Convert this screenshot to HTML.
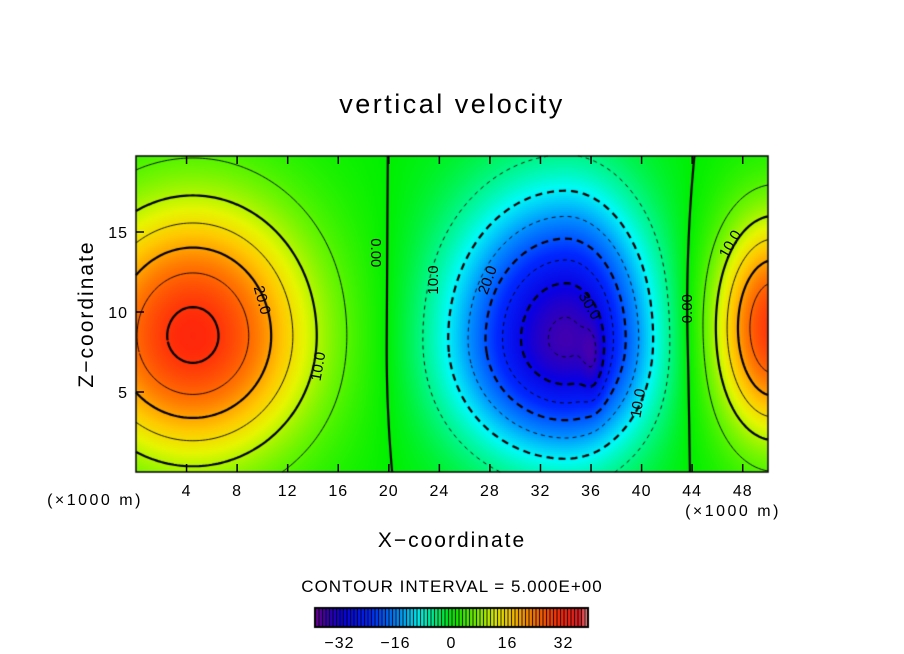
<!DOCTYPE html>
<html><head><meta charset="utf-8"><style>
html,body{margin:0;padding:0;background:#fff;width:904px;height:654px;overflow:hidden;position:relative;font-family:"Liberation Sans",sans-serif}
canvas,svg{position:absolute;left:0;top:0}
</style></head><body>
<canvas id="cv" width="904" height="654"></canvas>
<svg id="sv" width="904" height="654">
<text x="452" y="113" font-size="27" text-anchor="middle" letter-spacing="2.5">vertical velocity</text>
<text x="452" y="547" font-size="21" text-anchor="middle" letter-spacing="2">X−coordinate</text>
<text transform="translate(93,314) rotate(-90)" font-size="21" text-anchor="middle" letter-spacing="2">Z−coordinate</text>
<text x="95" y="505" font-size="16" text-anchor="middle" letter-spacing="2.5">(×1000 m)</text>
<text x="733" y="516" font-size="16" text-anchor="middle" letter-spacing="2.5">(×1000 m)</text>
<text x="452" y="592" font-size="17" text-anchor="middle" letter-spacing="1">CONTOUR INTERVAL = 5.000E+00</text>
<g id="axes"></g>
</svg>
<script>
// field features: center, amplitude, radii (left/right/bottom/top)
const featX=[4.5,34,36.2,50.5];
const featZ=[8.5,8.3,6.8,9];
const featAmp=[31.5,-36,-5,30];
const featRxL=[9.2,8.3,0.9,4.6];
const featRxR=[9.2,6.2,0.9,4.6];
const featRzB=[7.6,6.6,2.6,6.7];
const featRzT=[8.2,8.2,2.6,6.7];
const xTicks=[4,8,12,16,20,24,28,32,36,40,44,48];
const zTicks=[5,10,15];
const cbTicks=[-32,-16,0,16,32];
const levels=[-35,-30,-25,-20,-15,-10,-5,0,5,10,15,20,25,30];
// contour labels: x, z (data units), text, rotation
const labX=[9.99,14.4,19.0,23.5,27.8,35.9,39.7,43.6,47.0];
const labZ=[10.75,6.6,13.7,12.0,12.0,10.4,4.3,10.2,14.25];
const labT=["20.0","10.0","0.00","10.0","20.0","30.0","10.0","0.00","10.0"];
const labR=[75,-80,90,-90,-70,60,-80,-90,-60];

const X0=136,X1=768,Y0=156,Y1=472,XMAX=50,ZMAX=19.75;
const sx=v=>X0+v/XMAX*(X1-X0), sz=v=>Y1-v/ZMAX*(Y1-Y0);
function field(x,z){let s=0;for(let i=0;i<featX.length;i++){
 const ddx=x-featX[i],ddz=z-featZ[i];
 const dx=ddx/(ddx<0?featRxL[i]:featRxR[i]),dz=ddz/(ddz<0?featRzB[i]:featRzT[i]);
 s+=featAmp[i]*Math.exp(-(dx*dx+dz*dz));}return s;}
function cmap(v){const t=Math.max(0,Math.min(1,(v+39)/78));
 const stops=[[0,[110,0,150]],[0.05,[50,0,185]],[0.1,[10,0,225]],[0.2,[0,40,255]],[0.3,[0,140,255]],[0.38,[0,250,245]],[0.45,[0,245,110]],[0.5,[0,240,0]],[0.58,[110,245,0]],[0.66,[230,245,0]],[0.72,[255,200,0]],[0.8,[255,120,0]],[0.9,[255,40,10]],[0.97,[230,30,40]],[1,[255,160,160]]];
 for(let i=1;i<stops.length;i++){if(t<=stops[i][0]){const a=stops[i-1],b=stops[i],f=(t-a[0])/(b[0]-a[0]);return a[1].map((c,k)=>Math.round(c+(b[1][k]-c)*f));}}return stops[stops.length-1][1];}
const cv=document.getElementById('cv'),ctx=cv.getContext('2d');
const step=2;
for(let px=X0;px<X1;px+=step)for(let py=Y0;py<Y1;py+=step){
 const x=(px+1-X0)/(X1-X0)*XMAX,z=(Y1-py-1)/(Y1-Y0)*ZMAX;const c=cmap(field(x,z));
 ctx.fillStyle=`rgb(${c[0]},${c[1]},${c[2]})`;ctx.fillRect(px,py,step,step);}
// marching squares with chaining
const NX=200,NZ=80,gx=i=>i/NX*XMAX,gz=j=>j/NZ*ZMAX;
const G=[];for(let i=0;i<=NX;i++){G[i]=[];for(let j=0;j<=NZ;j++)G[i][j]=field(gx(i),gz(j));}
levels.forEach(L=>{
 const pts={},adj={};
 function ep(k,a,b,A,B){if(!pts[k]){const f=(L-a)/(b-a);pts[k]=[A[0]+(B[0]-A[0])*f,A[1]+(B[1]-A[1])*f];adj[k]=[];}return k;}
 for(let i=0;i<NX;i++)for(let j=0;j<NZ;j++){
  const v=[G[i][j],G[i+1][j],G[i+1][j+1],G[i][j+1]];
  const p=[[gx(i),gz(j)],[gx(i+1),gz(j)],[gx(i+1),gz(j+1)],[gx(i),gz(j+1)]];
  const keys=['h'+i+','+j,'v'+(i+1)+','+j,'h'+i+','+(j+1),'v'+i+','+j];
  const ks=[];
  for(let e=0;e<4;e++){const a=v[e],b=v[(e+1)%4];if((a<L)!==(b<L))ks.push(ep(keys[e],a,b,p[e],p[(e+1)%4]));}
  for(let k=0;k+1<ks.length;k+=2){adj[ks[k]].push(ks[k+1]);adj[ks[k+1]].push(ks[k]);}
 }
 const seen={};const lines=[];
 const order=Object.keys(adj).sort((a,b)=>adj[a].length-adj[b].length);
 order.forEach(s=>{if(seen[s])return;const line=[s];seen[s]=1;let cur=s;
  while(true){const nx=adj[cur].find(n=>!seen[n]);if(!nx)break;seen[nx]=1;line.push(nx);cur=nx;}
  lines.push(line);});
 ctx.strokeStyle='#000';ctx.lineWidth=(L%10===0)?2.2:0.9;
 ctx.setLineDash(L<0?(L%10===0?[7,5]:[4,4]):[]);
 lines.forEach(line=>{ctx.beginPath();line.forEach((k,n)=>{const q=pts[k];n?ctx.lineTo(sx(q[0]),sz(q[1])):ctx.moveTo(sx(q[0]),sz(q[1]));});ctx.stroke();});
});
ctx.setLineDash([]);
// colorbar
const CB0=315,CB1=588,CBY=608,CBH=19,NB=78;
for(let k=0;k<NB;k++){const v=-39+k+0.5,c=cmap(v);ctx.fillStyle=`rgb(${c[0]},${c[1]},${c[2]})`;
 const a=CB0+k*(CB1-CB0)/NB;ctx.fillRect(a,CBY,(CB1-CB0)/NB+0.5,CBH);
 ctx.fillStyle='#000';ctx.fillRect(a,CBY,1,CBH);}
ctx.strokeStyle='#000';ctx.lineWidth=2;ctx.strokeRect(CB0,CBY,CB1-CB0,CBH);
ctx.lineWidth=1.5;ctx.strokeRect(X0,Y0,X1-X0,Y1-Y0);
// svg axes
const NS='http://www.w3.org/2000/svg',ax=document.getElementById('axes');
function mk(tag,attrs,txt){const e=document.createElementNS(NS,tag);for(const k in attrs)e.setAttribute(k,attrs[k]);if(txt!==undefined)e.textContent=txt;ax.appendChild(e);return e;}
xTicks.forEach(t=>{
 const l=mk('line',{x1:sx(t),x2:sx(t),y1:Y1,y2:Y1-8,stroke:'#000','stroke-width':1.5});
 
 
 const l2=mk('line',{x1:sx(t),x2:sx(t),y1:Y0,y2:Y0+8,stroke:'#000','stroke-width':1.5});
 
 
 const tx=mk('text',{x:sx(t),y:Y1+24,'font-size':16,'text-anchor':'middle','letter-spacing':1},String(t));
 
 
});
zTicks.forEach(t=>{
 const l=mk('line',{x1:X0,x2:X0+8,y1:sz(t),y2:sz(t),stroke:'#000','stroke-width':1.5});
 
 
 const tx=mk('text',{x:X0-8,y:sz(t)+6,'font-size':16,'text-anchor':'end','letter-spacing':1},String(t));
 
 
});
cbTicks.forEach(t=>{
 const x=CB0+(t+39)/78*(CB1-CB0);
 const tx=mk('text',{x:x,y:648,'font-size':16,'text-anchor':'middle','letter-spacing':1},t<0?'−'+Math.abs(t):String(t));
 
 
});
labT.forEach((s,i)=>{
 const tx=mk('text',{x:0,y:5,'font-size':15,'text-anchor':'middle',transform:`translate(${sx(labX[i])},${sz(labZ[i])}) rotate(${labR[i]})`},s);
 
 
});
</script>
</body></html>
